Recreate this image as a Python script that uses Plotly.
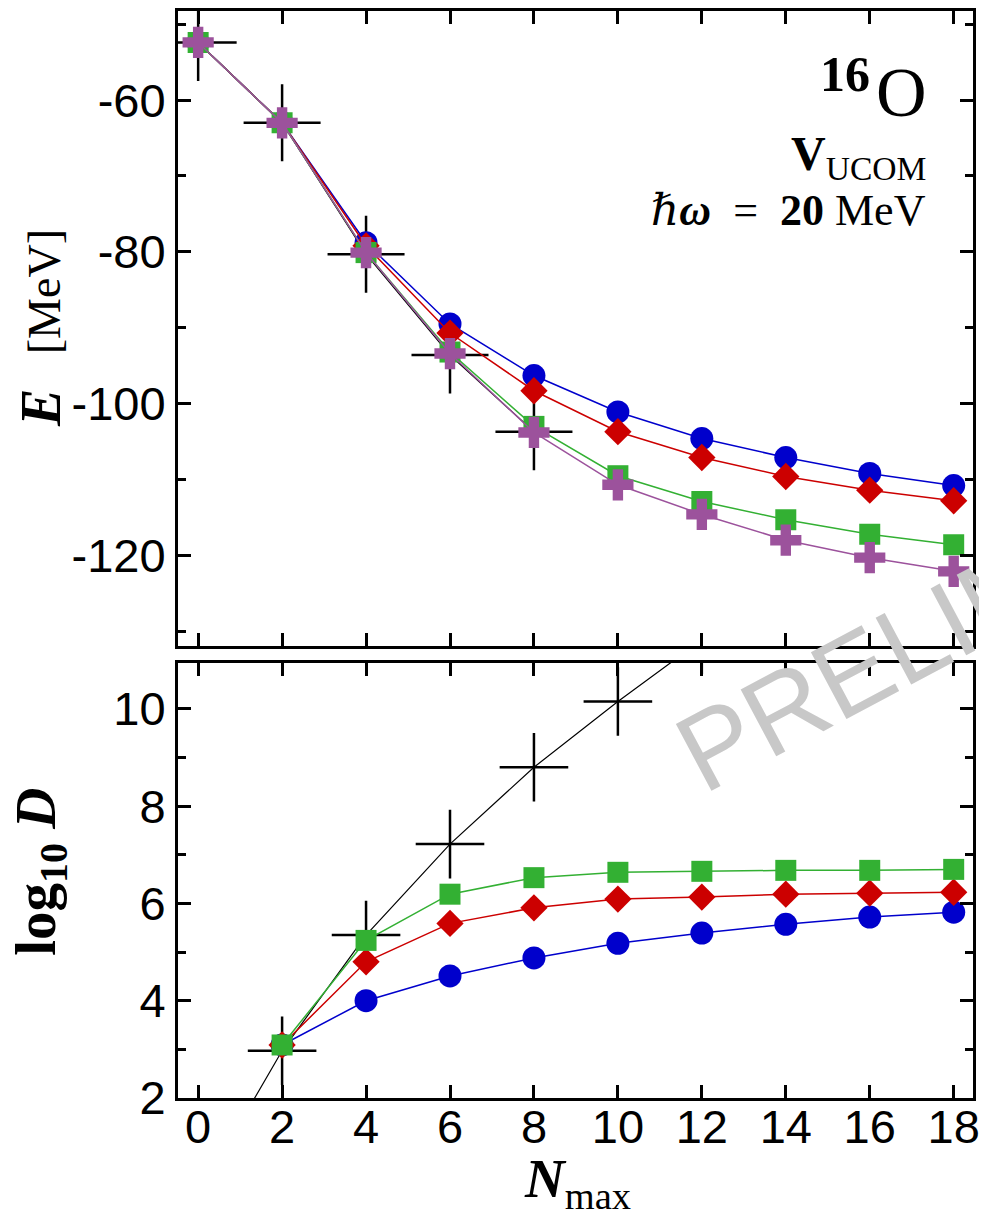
import plotly.graph_objects as go

# ---------------- data ----------------
nmax = [0, 2, 4, 6, 8, 10, 12, 14, 16, 18]
nmax_full_top = [0, 2, 4, 6, 8]
nmax_full_bot = [0, 2, 4, 6, 8, 10, 12]

E_blue = [-52.4, -63.0, -78.8, -89.5, -96.3, -101.1, -104.6, -107.1, -109.2, -110.8]
E_red = [-52.4, -63.0, -79.2, -90.7, -98.3, -103.7, -107.1, -109.6, -111.4, -112.8]
E_green = [-52.4, -63.0, -80.1, -93.2, -103.0, -109.5, -112.9, -115.3, -117.2, -118.6]
E_purple = [-52.4, -63.0, -80.1, -93.4, -103.8, -110.7, -114.6, -118.0, -120.3, -122.1]
E_full = [-52.4, -63.0, -80.3, -93.6, -103.7]

D_blue = [None, 3.09, 4.00, 4.51, 4.88, 5.18, 5.39, 5.57, 5.72, 5.82]
D_red = [None, 3.09, 4.80, 5.59, 5.91, 6.09, 6.13, 6.19, 6.21, 6.23]
D_green = [None, 3.09, 5.24, 6.19, 6.53, 6.64, 6.66, 6.68, 6.68, 6.70]
D_full = [0.0, 2.97, 5.35, 7.22, 8.80, 10.15, 11.42]

x_ticks = [0, 2, 4, 6, 8, 10, 12, 14, 16, 18]
yE_ticks = [-120, -100, -80, -60]
yE_labels = ["-120", "-100", "-80", "-60"]
yD_ticks = [2, 4, 6, 8, 10]
yD_labels = ["2", "4", "6", "8", "10"]

BLUE = "#0000CC"
RED = "#CC0000"
GREEN = "#33B033"
PURPLE = "#9C529C"
BLACK = "#000000"

fig = go.Figure()

def add(x, y, color, symbol, size, lw, xa, ya, mlw=0):
    fig.add_trace(go.Scatter(
        x=x, y=y, mode="lines+markers", xaxis=xa, yaxis=ya,
        line=dict(color=color, width=lw),
        marker=dict(symbol=symbol, size=size, color=color,
                    line=dict(color=color, width=mlw)),
        showlegend=False, connectgaps=False))

# top panel
add(nmax_full_top, E_full, BLACK, "cross-thin", 55, 1.2, "x", "y", mlw=2.5)
add(nmax, E_blue, BLUE, "circle", 23, 1.5, "x", "y")
add(nmax, E_red, RED, "diamond", 21, 1.5, "x", "y")
add(nmax, E_green, GREEN, "square", 21, 1.5, "x", "y")
add(nmax, E_purple, PURPLE, "cross", 26, 1.5, "x", "y")

# bottom panel
add(nmax_full_bot, D_full, BLACK, "cross-thin", 49, 1.2, "x2", "y2", mlw=2.5)
add(nmax, D_blue, BLUE, "circle", 23, 1.5, "x2", "y2")
add(nmax, D_red, RED, "diamond", 21, 1.5, "x2", "y2")
add(nmax, D_green, GREEN, "square", 21, 1.5, "x2", "y2")

tickfont = dict(family="Liberation Sans, Arial, sans-serif", size=47, color="black")
common_x = dict(range=[-0.48, 18.46], tickvals=x_ticks, ticks="inside", ticklen=13,
                tickwidth=2.5, tickcolor="black", mirror="allticks", showline=True,
                linewidth=3, linecolor="black", showgrid=False, zeroline=False,
                tickfont=tickfont)
common_y = dict(ticks="inside", ticklen=13, tickwidth=2.5, tickcolor="black",
                mirror="allticks", showline=True, linewidth=3, linecolor="black",
                showgrid=False, zeroline=False, tickfont=tickfont)

fig.update_layout(
    width=979, height=1203,
    margin=dict(l=170, r=14, t=3, b=113, autoexpand=False),
    plot_bgcolor="white", paper_bgcolor="white",
    xaxis=dict(**common_x, anchor="y", showticklabels=False, domain=[0, 1]),
    xaxis2=dict(**common_x, anchor="y2", showticklabels=True, domain=[0, 1],
                ticklabelstandoff=-14),
    yaxis=dict(**common_y, domain=[0.4161, 1], range=[-131.9, -48.26], anchor="x",
               tickvals=yE_ticks, ticktext=yE_labels,
               minor=dict(ticks="inside", ticklen=8, tickwidth=2.5, tickcolor="black",
                          dtick=10, tick0=0, showgrid=False)),
    yaxis2=dict(**common_y, domain=[0, 0.4005], range=[2.0, 10.95], anchor="x2",
                tickvals=yD_ticks, ticktext=yD_labels,
                minor=dict(ticks="inside", ticklen=8, tickwidth=2.5, tickcolor="black",
                           dtick=1, tick0=0, showgrid=False)),
)

serif = "Liberation Serif, DejaVu Serif, serif"
ann = []
ann.append(dict(text="<b>16</b>", x=0.8735, y=0.9425, xref="paper", yref="paper",
                xanchor="right", yanchor="middle", showarrow=False,
                font=dict(family=serif, size=50, color="black")))
ann.append(dict(text="O", x=0.945, y=0.925, xref="paper", yref="paper",
                xanchor="right", yanchor="middle", showarrow=False,
                font=dict(family=serif, size=70, color="black")))
ann.append(dict(text="<b>V</b><sub>UCOM</sub>", x=0.944, y=0.866, xref="paper", yref="paper",
                xanchor="right", yanchor="middle", showarrow=False,
                font=dict(family=serif, size=48, color="black")))
ann.append(dict(text="<i>ℏ</i><b><i>ω</i></b>&nbsp;&nbsp;=&nbsp;&nbsp;<b>20</b>&nbsp;MeV",
                x=0.944, y=0.8165, xref="paper", yref="paper", xanchor="right",
                yanchor="middle", showarrow=False,
                font=dict(family=serif, size=44, color="black")))
# axis titles
ann.append(dict(text="<span style=\"font-size:56px\"><b><i>E</i></b></span>&nbsp;&nbsp;&nbsp;[MeV]",
                x=-0.1715, y=0.708, xref="paper", yref="paper",
                xanchor="center", yanchor="middle", textangle=-90, showarrow=False,
                font=dict(family=serif, size=46, color="black")))
ann.append(dict(text="<b>log</b><sub><b>10</b></sub>&nbsp;<b><i>D</i></b>", x=-0.1745, y=0.2083,
                xref="paper", yref="paper", xanchor="center", yanchor="middle",
                textangle=-90, showarrow=False,
                font=dict(family=serif, size=57, color="black")))
ann.append(dict(text="<b><i>N</i></b><sub>max</sub>", x=0.503, y=-0.0775, xref="paper",
                yref="paper", xanchor="center", yanchor="middle", showarrow=False,
                font=dict(family=serif, size=55, color="black")))
# watermark
ann.append(dict(text="PRELIMINARY", x=1.051, y=0.4706, xref="paper", yref="paper",
                xanchor="center", yanchor="middle", textangle=-28, showarrow=False,
                font=dict(family="Liberation Sans, Arial, sans-serif", size=110,
                          color="rgba(200,200,200,1)")))
fig.update_layout(annotations=ann)

fig.write_html("out.html")
